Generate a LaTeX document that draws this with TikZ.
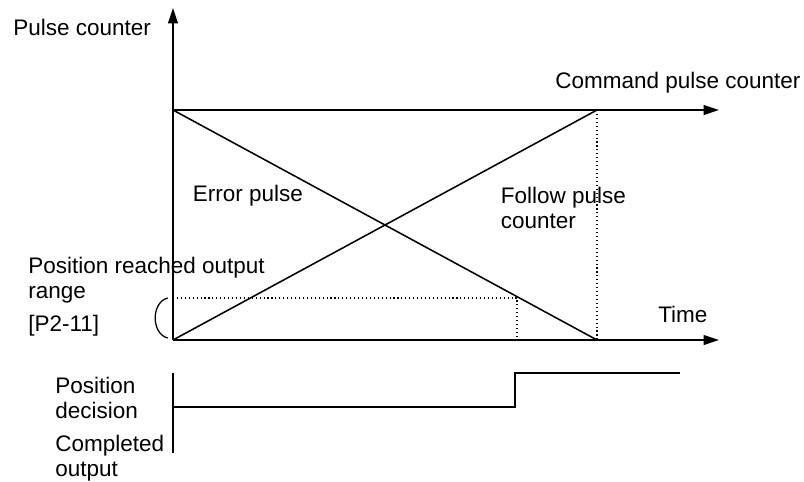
\documentclass[tikz,border=0pt]{standalone}
\usepackage{fontspec}
\setmainfont{Liberation Sans}
\usetikzlibrary{arrows.meta,positioning,calc}

\begin{document}
\begin{tikzpicture}[>={Triangle[length=11pt,width=7pt]},
  axis/.style={line width=1.2pt},
  sig/.style={line width=1.1pt},
  guide/.style={dotted,line width=0.8pt},
  lbl/.style={anchor=base west,inner sep=0pt,align=left,font=\fontsize{16}{17.7}\selectfont}]
\useasboundingbox (-4.325,-3.525) rectangle (15.775,8.5);
% axes
\coordinate (O) at (0,0);
\coordinate (Ytop) at (0,8.3);
\coordinate (Tend) at (13.65,0);
\coordinate (C0) at (0,5.75);
\coordinate (Cend) at (13.65,5.75);
\coordinate (M) at (10.6,5.75);
\coordinate (Mb) at (10.6,0);
\draw[axis,->] (O) -- (Ytop);
\draw[axis,->] (O) -- (Tend);
\draw[axis,->] (C0) -- (Cend);
\draw[sig] (C0) -- (Mb);
\draw[sig] (O) -- (M);
\draw[guide] (M) -- (Mb);
% reached range
\coordinate (R0) at (0,1.05);
\coordinate (R) at (8.6,1.05);
\coordinate (Rb) at (8.6,0);
\draw[guide] (R0) -- (R) -- (Rb);
\coordinate (P1) at (-0.13,1.05);
\coordinate (P2) at (-0.13,0.05);
\draw[line width=0.9pt] (P1) .. controls (-0.55,0.95) and (-0.55,0.15) .. (P2);
% completed output
\coordinate (S0) at (0,-0.825);
\coordinate (S1) at (0,-2.825);
\coordinate (L0) at (0,-1.675);
\coordinate (L1) at (8.55,-1.675);
\coordinate (H1) at (8.55,-0.825);
\coordinate (H2) at (12.675,-0.825);
\draw[axis] (S0) -- (S1);
\draw[sig] (L0) -- (L1) -- (H1) -- (H2);
% labels
\node[lbl] (ylab) at (-4.0,7.625) {Pulse counter};
\node[lbl] (cmd) at (9.55,6.3) {Command pulse counter};
\node[lbl] (err) at (0.49,3.46) {Error pulse};
\node[lbl,anchor=north west] (fol) at (8.19,3.83) {Follow pulse\\counter};
\node[lbl,anchor=north west] (rng) at (-3.625,2.08) {Position reached output\\range};
\node[lbl] (par) at (-3.625,0.21) {[P2-11]};
\node[lbl] (time) at (12.125,0.45) {Time};
\node[lbl,anchor=north west] (dec) at (-2.95,-0.92) {Position\\decision};
\node[lbl,anchor=north west] (done) at (-2.95,-2.38) {Completed\\output};
\end{tikzpicture}
\end{document}
